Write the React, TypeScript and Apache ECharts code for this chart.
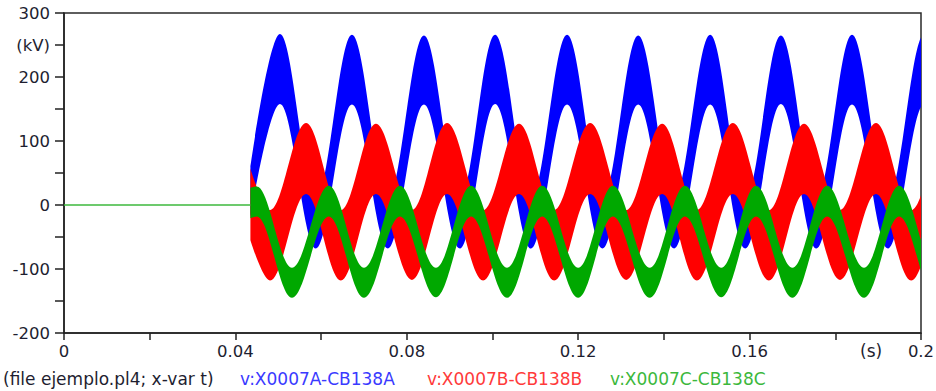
import React, { useEffect, useRef } from "react";
import * as echarts from "echarts";

// Pre-fault: all phases at 0 kV
const preT = [0, 0.0435];
const preV = [0, 0];

// Phase A (blue): envelope samples of the oscillating band (time s, upper kV, lower kV)
const blueT = [0.0435, 0.0504, 0.0588, 0.0672, 0.0756, 0.084, 0.0924, 0.1006, 0.109, 0.1174, 0.1257, 0.134, 0.1424, 0.1508, 0.159, 0.1673, 0.1756, 0.1839, 0.1923, 0.2007];
const blueUpper = [60, 267, 11, 266, 11, 265, 11, 266, 11, 266, 11, 265, 11, 266, 11, 265, 11, 266, 11, 266];
const blueLower = [-20, 158, -68, 157, -68, 157, -68, 158, -68, 157, -68, 157, -68, 157, -68, 158, -68, 157, -68, 157];

// Phase B (red)
const redT = [0.0435, 0.0481, 0.0565, 0.0646, 0.0728, 0.0812, 0.0894, 0.0978, 0.1062, 0.1144, 0.1228, 0.1312, 0.1396, 0.1477, 0.1561, 0.1645, 0.1727, 0.1811, 0.1895, 0.1977, 0.2062];
const redUpper = [57, -8, 128, -8, 127, -8, 128, -8, 127, -8, 128, -8, 127, -8, 128, -8, 127, -8, 128, -8, 128];
const redLower = [-55, -118, 17, -118, 17, -117, 17, -118, 17, -118, 17, -117, 17, -118, 17, -118, 17, -117, 17, -118, 17];

// Phase C (green)
const greenT = [0.0435, 0.045, 0.0532, 0.0618, 0.07, 0.0784, 0.0868, 0.095, 0.1034, 0.1116, 0.12, 0.1281, 0.1367, 0.1449, 0.1534, 0.1615, 0.17, 0.1781, 0.1867, 0.1949, 0.2033];
const greenUpper = [27, 29, -98, 30, -98, 30, -98, 30, -98, 30, -98, 30, -98, 30, -98, 30, -98, 30, -98, 30, -98];
const greenLower = [-21, -18, -145, -18, -145, -18, -144, -18, -145, -18, -145, -18, -145, -18, -144, -18, -145, -18, -145, -18, -145];

const legendTexts = ["(file ejemplo.pl4; x-var t)", "v:X0007A-CB138A", "v:X0007B-CB138B", "v:X0007C-CB138C"];

const BLUE = "#0000ff";
const RED = "#ff0000";
const GREEN = "#00a800";
const K = 0.36;

function bandRenderer(t: number[], up: number[], lo: number[], color: string) {
  return (params: any, api: any) => {
    if (params.dataIndex !== 0) return null;
    const U = t.map((x, i) => api.coord([x, up[i]]));
    const L = t.map((x, i) => api.coord([x, lo[i]]));
    const n = t.length;
    const f = (v: number) => v.toFixed(2);
    let d = `M${f(U[0][0])},${f(U[0][1])}`;
    for (let i = 1; i < n; i++) {
      const A = U[i - 1], B = U[i];
      const dx = B[0] - A[0];
      const ca = i - 1 === 0 ? A : [A[0] + K * dx, A[1]];
      const cb = [B[0] - K * dx, B[1]];
      d += ` C${f(ca[0])},${f(ca[1])} ${f(cb[0])},${f(cb[1])} ${f(B[0])},${f(B[1])}`;
    }
    d += ` L${f(L[n - 1][0])},${f(L[n - 1][1])}`;
    for (let i = n - 1; i >= 1; i--) {
      const A = L[i - 1], B = L[i];
      const dx = B[0] - A[0];
      const ca = i - 1 === 0 ? A : [A[0] + K * dx, A[1]];
      const cb = [B[0] - K * dx, B[1]];
      d += ` C${f(cb[0])},${f(cb[1])} ${f(ca[0])},${f(ca[1])} ${f(A[0])},${f(A[1])}`;
    }
    d += " Z";
    const cs = params.coordSys;
    return {
      type: "path",
      shape: { pathData: d },
      style: { fill: color, stroke: null },
      clipPath: { type: "rect", shape: { x: cs.x, y: cs.y, width: cs.width, height: cs.height } },
    };
  };
}

function bandSeries(name: string, t: number[], up: number[], lo: number[], color: string) {
  return {
    type: "custom",
    name,
    silent: true,
    renderItem: bandRenderer(t, up, lo, color),
    encode: { x: 0, y: [1, 2] },
    data: t.map((x, i) => [x, up[i], lo[i]]),
  };
}

export default function App() {
  const ref = useRef<HTMLDivElement>(null);
  useEffect(() => {
    if (!ref.current) return;
    const chart = echarts.init(ref.current, null, { renderer: "svg" });
    const txt = "#1e1e30";
    const labelFont = { fontFamily: "DejaVu Sans", fontSize: 16.5, color: txt };
    const legFont = "17px 'DejaVu Sans'";
    chart.setOption({
      animation: false,
      grid: {
        left: 64, right: 15, top: 13, bottom: 58,
        show: true, borderColor: "#2a2a2a", borderWidth: 1.5,
        containLabel: false, outerBoundsMode: "none",
      },
      xAxis: {
        type: "value", min: 0, max: 0.2, interval: 0.02,
        axisLine: { onZero: false, lineStyle: { color: "#222", width: 1.5 } },
        axisTick: { length: 7, lineStyle: { color: "#222", width: 1.5 } },
        splitLine: { show: false },
        axisLabel: {
          ...labelFont, margin: 10,
          formatter: (v: number) => {
            const r = Math.round(v * 100);
            if (r % 4 !== 0) return "";
            return r === 0 ? "0" : String(+v.toFixed(2));
          },
        },
      },
      yAxis: {
        type: "value", min: -200, max: 300, interval: 50,
        axisLine: { show: true, lineStyle: { color: "#222", width: 1.5 } },
        axisTick: { show: true, length: 9, lineStyle: { color: "#222", width: 1.5 } },
        splitLine: { show: false },
        axisLabel: {
          ...labelFont, margin: 14,
          formatter: (v: number) => (v === 250 ? "(kV)" : v % 100 === 0 ? String(v) : ""),
        },
      },
      series: [
        {
          type: "line", name: "pre", symbol: "none", silent: true,
          lineStyle: { color: "#3cb83c", width: 1.4 },
          data: preT.map((x, i) => [x, preV[i]]),
        },
        bandSeries("A", blueT, blueUpper, blueLower, BLUE),
        bandSeries("B", redT, redUpper, redLower, RED),
        bandSeries("C", greenT, greenUpper, greenLower, GREEN),
      ],
      graphic: [
        { type: "text", left: 860, top: 342, style: { text: "(s)", font: legFont, fill: txt } },
        { type: "text", left: 3, top: 370, style: { text: legendTexts[0], font: legFont, fill: txt } },
        { type: "text", left: 240, top: 370, style: { text: legendTexts[1], font: legFont, fill: "#3a3aff" } },
        { type: "text", left: 427, top: 370, style: { text: legendTexts[2], font: legFont, fill: "#ff3a3a" } },
        { type: "text", left: 610, top: 370, style: { text: legendTexts[3], font: legFont, fill: "#3cb83c" } },
      ],
    });
    return () => chart.dispose();
  }, []);
  return (
    <div
      ref={ref}
      style={{ position: "fixed", left: 0, top: 0, width: 936, height: 391, background: "#fff" }}
    />
  );
}
